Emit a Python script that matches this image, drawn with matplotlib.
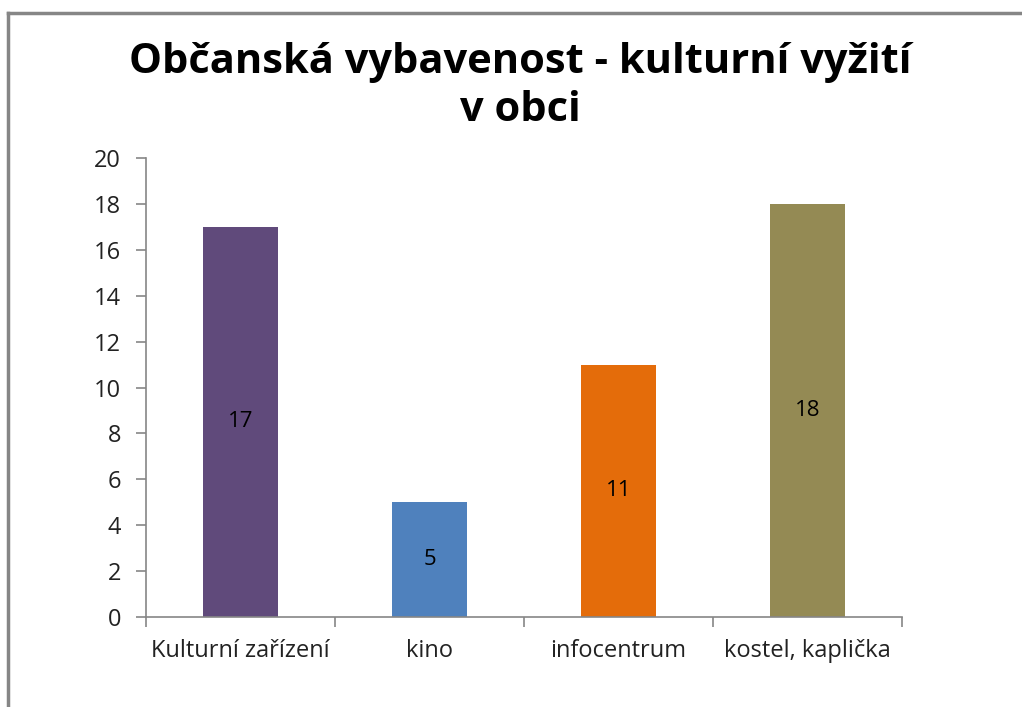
import matplotlib.pyplot as plt
import numpy as np
from matplotlib.lines import Line2D

categories = ['Kulturní zařízení', 'kino', 'infocentrum', 'kostel, kaplička']
values = [17, 5, 11, 18]
colors = ['#604A7B', '#4F81BD', '#E46C0A', '#948A54']
title = 'Občanská vybavenost - kulturní vyžití\nv obci'

plt.rcParams['font.family'] = ['Open Sans', 'DejaVu Sans']

fig = plt.figure(figsize=(10.22, 7.07), dpi=100)
ax = fig.add_axes([0.1429, 0.1273, 0.7397, 0.6492])

x = np.arange(len(categories))
bars = ax.bar(x, values, width=0.4, color=colors)
for xi, v in zip(x, values):
    ax.text(xi, v / 2, str(v), ha='center', va='center', fontsize=16, color='black')

ax.set_xlim(-0.5, len(categories) - 0.5)
ax.set_ylim(0, 20)
ax.set_yticks(range(0, 21, 2))

# tick marks between categories, labels centred under bars
ax.set_xticks(np.arange(-0.5, len(categories), 1.0))
ax.set_xticklabels([])
ax.set_xticks(x, minor=True)
ax.set_xticklabels(categories, minor=True)
ax.tick_params(axis='x', which='minor', length=0, pad=16, labelsize=17,
               labelcolor='#222222')
ax.tick_params(axis='x', which='major', length=7, color='#868686', width=1.2)
ax.tick_params(axis='y', length=7, color='#868686', width=1.2, labelsize=17,
               pad=11, labelcolor='#222222')

for s in ['top', 'right']:
    ax.spines[s].set_visible(False)
for s in ['left', 'bottom']:
    ax.spines[s].set_color('#868686')
    ax.spines[s].set_linewidth(1.2)

fig.text(0.509, 0.878, title, ha='center', va='center', fontsize=30,
         fontweight='bold', linespacing=1.22)

# chart frame (only top and left edges are visible in the crop)
fig.add_artist(Line2D([8 / 1022, 1.0], [1 - 13 / 707, 1 - 13 / 707],
                      transform=fig.transFigure, color='#868686', lw=2.5))
fig.add_artist(Line2D([8 / 1022, 8 / 1022], [0, 1 - 13 / 707],
                      transform=fig.transFigure, color='#868686', lw=2.5))

fig.savefig('out.png', dpi=100)
